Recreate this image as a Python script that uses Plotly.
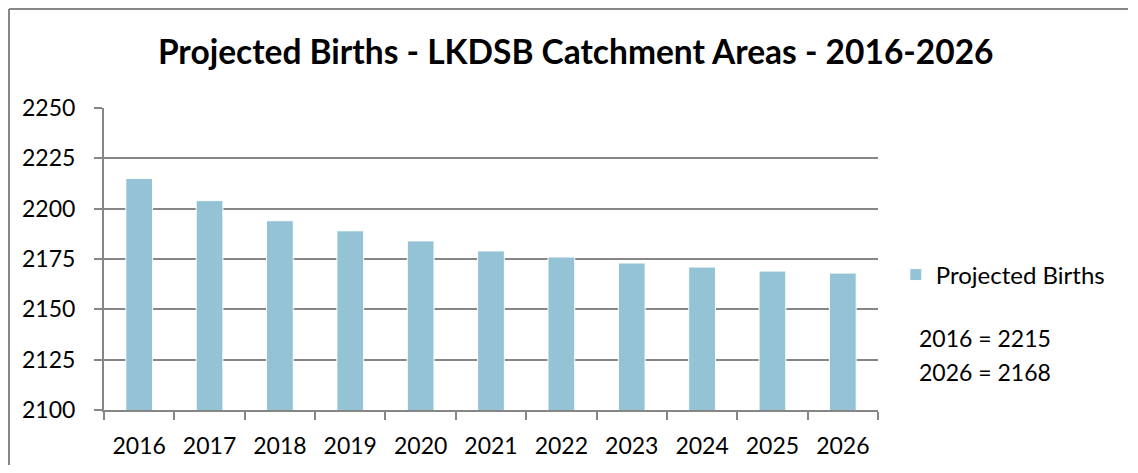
import plotly.graph_objects as go

years = ["2016", "2017", "2018", "2019", "2020", "2021", "2022", "2023", "2024", "2025", "2026"]
births = [2215, 2204, 2194, 2189, 2184, 2179, 2176, 2173, 2171, 2169, 2168]
y_ticks = [2100, 2125, 2150, 2175, 2200, 2225, 2250]
series_name = "Projected Births"
title_text = "Projected Births - LKDSB Catchment Areas - 2016-2026"
note_lines = ["2016 = 2215", "2026 = 2168"]

FONT = "Lato, Open Sans, sans-serif"
W, H = 1122, 457
L, R, T, B = 96, 252, 100, 55
PW, PH = W - L - R, H - T - B

fig = go.Figure()
fig.add_trace(go.Bar(
    x=years, y=births, name=series_name,
    marker=dict(color="#93C3D5", line=dict(color="white", width=1)),
    width=0.38,
))

fig.update_layout(
    width=W, height=H,
    margin=dict(l=L, r=R, t=T, b=B, autoexpand=False),
    paper_bgcolor="white", plot_bgcolor="white",
    font=dict(family=FONT, size=23, color="black"),
    title=dict(text="<b>" + title_text + "</b>", x=0.506, xanchor="center",
               y=0.904, yanchor="middle", font=dict(size=33.5, family=FONT, color="black")),
    showlegend=True,
    legend=dict(x=1.023, y=0.447, xanchor="left", yanchor="middle",
                font=dict(size=24), itemwidth=30, bgcolor="rgba(0,0,0,0)"),
)
fig.update_xaxes(
    showline=True, linecolor="#868686", linewidth=2,
    ticks="outside", ticklen=8, tickcolor="#868686", tickwidth=2,
    tickson="boundaries", showgrid=False, automargin=False,
    tickfont=dict(size=23), ticklabelstandoff=14,
)
fig.update_yaxes(
    range=[2100, 2250], tickvals=y_ticks,
    showline=True, linecolor="#868686", linewidth=2,
    ticks="outside", ticklen=8, tickcolor="#868686", tickwidth=2,
    showgrid=True, gridcolor="#868686", gridwidth=2, automargin=False,
    tickfont=dict(size=23), ticklabelstandoff=14,
)
for line, yy in zip(note_lines, [0.238, 0.126]):
    fig.add_annotation(text=line, xref="paper", yref="paper",
                       x=1.050, y=yy, xanchor="left", yanchor="middle",
                       showarrow=False, font=dict(size=23, family=FONT))
# outer chart border: only left and top edges visible in the reference
bx0 = -(L - 1) / PW
by1 = 1 + (T - 1) / PH
fig.add_shape(type="line", xref="paper", yref="paper",
              x0=bx0, y0=-(B + 10) / PH, x1=bx0, y1=by1,
              line=dict(color="#868686", width=2), layer="below")
fig.add_shape(type="line", xref="paper", yref="paper",
              x0=bx0, y0=by1, x1=1 + (R - 2) / PW, y1=by1,
              line=dict(color="#868686", width=2), layer="below")
fig.write_html("out.html")
